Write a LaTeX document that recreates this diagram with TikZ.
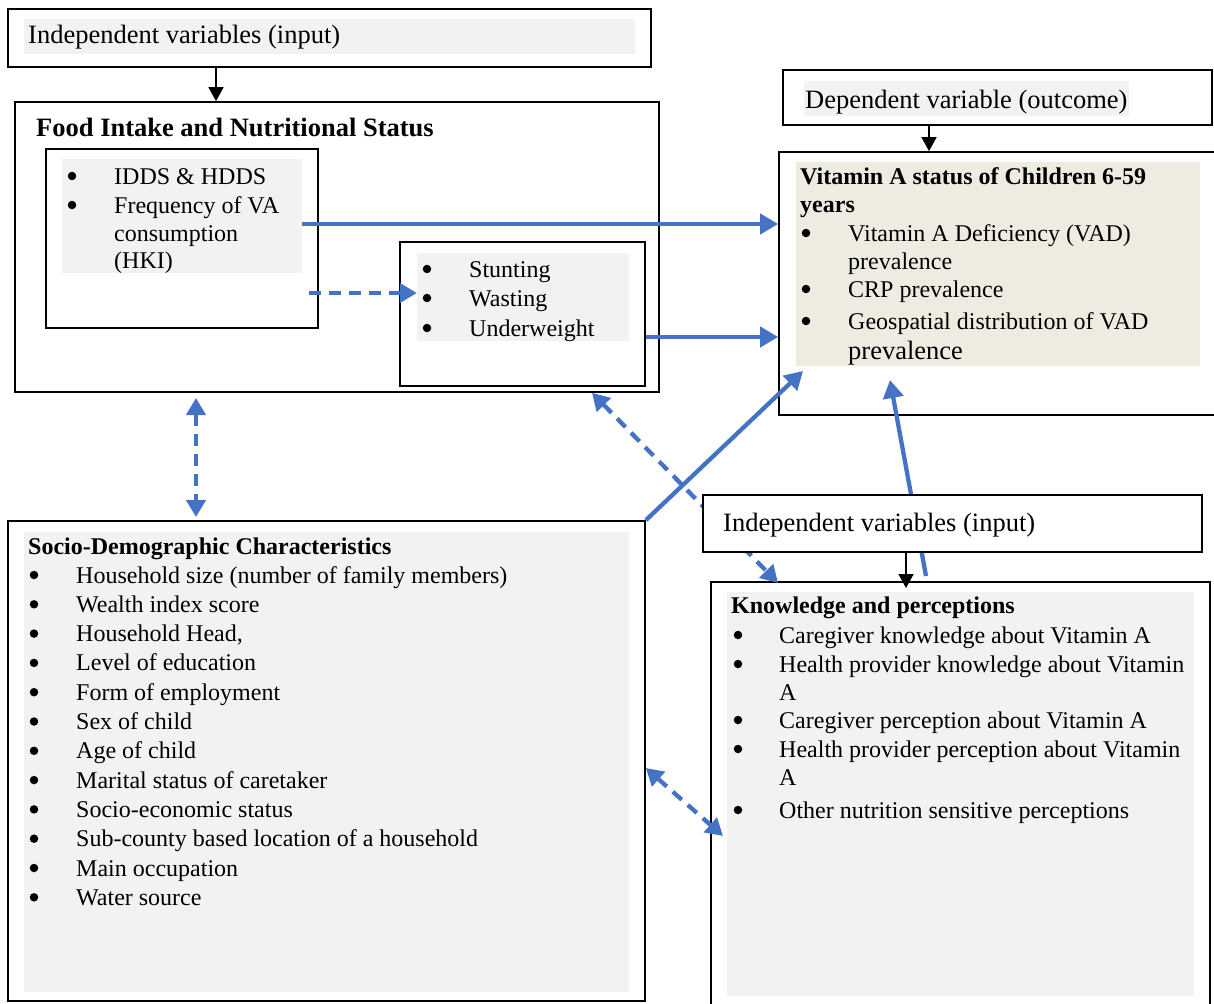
\documentclass[tikz,border=0pt]{standalone}
\usepackage{fontspec}
\setmainfont{Liberation Serif}
\usetikzlibrary{arrows.meta,fit}
\definecolor{vblue}{HTML}{4472C4}
\definecolor{lgray}{HTML}{F2F2F2}
\definecolor{beige}{HTML}{EEECE1}
\tikzset{
  frame/.style={draw=black, line width=1.7pt, fill=white, inner sep=0pt},
  panel/.style={fill=#1, draw=none, inner sep=0pt},
  lab/.style={anchor=base west, inner sep=0pt, font=\fontsize{26.5}{30}\selectfont},
  labbold/.style={anchor=base west, inner sep=0pt, font=\fontsize{26.5}{30}\selectfont\bfseries},
  txt/.style={anchor=base west, inner sep=0pt, font=\fontsize{24}{29}\selectfont},
  txtbold/.style={anchor=base west, inner sep=0pt, font=\fontsize{24}{29}\selectfont\bfseries},
  bul/.style={circle, fill=black, draw=none, inner sep=0pt, minimum size=8.5pt, yshift=8pt},
  solidarrow/.style={draw=vblue, line width=4.3pt, -{Triangle[length=18pt,width=20pt]}},
  dasharrow/.style={draw=vblue, line width=4.3pt, dash pattern=on 12pt off 8pt, -{Triangle[length=17pt,width=19pt]}},
  dashboth/.style={draw=vblue, line width=4.3pt, dash pattern=on 12pt off 8pt, {Triangle[length=17pt,width=19pt]}-{Triangle[length=17pt,width=19pt]}},
  blackarrow/.style={draw=black, line width=1.6pt, -{Triangle[length=14pt,width=15pt]}}
}
\begin{document}
\begin{tikzpicture}[x=1pt,y=-1pt]
\useasboundingbox (0,0) rectangle (1214,1003);

% ---------- top input box ----------
\node[frame, fit={(8,9)(651,67)}] (in1) {};
\node[panel=lgray, fit={(24,19)(635,54)}] (in1p) {};
\node[lab] (in1t) at (28,44) {Independent variables (input)};

% ---------- food intake box ----------
\node[frame, fit={(15,102)(659,392)}] (food) {};
\node[labbold] (foodt) at (36,137) {Food Intake and Nutritional Status};
\node[frame, fit={(46,149)(318,328)}] (fa) {};
\node[panel=lgray, fit={(62,159)(302,273)}] (fap) {};
\node[bul] (fab1) at (72,184) {};
\node[txt] (fat1) at (114,184) {IDDS \& HDDS};
\node[bul] (fab2) at (72,213) {};
\node[txt] (fat2) at (114,213) {Frequency of VA};
\node[txt] (fat3) at (114,241) {consumption};
\node[txt] (fat4) at (114,268) {(HKI)};
\node[frame, fit={(400,242)(645,386)}] (fb) {};
\node[panel=lgray, fit={(417,253)(629,341)}] (fbp) {};
\node[bul] (fbb1) at (427,277) {};
\node[txt] (fbt1) at (469,277) {Stunting};
\node[bul] (fbb2) at (427,306) {};
\node[txt] (fbt2) at (469,306) {Wasting};
\node[bul] (fbb3) at (427,336) {};
\node[txt] (fbt3) at (469,336) {Underweight};

% ---------- dependent variable ----------
\node[frame, fit={(783,70)(1212,125)}] (dep) {};
\node[panel=lgray, fit={(804,81)(1129,116)}] (depp) {};
\node[lab] (dept) at (805,109) {Dependent variable (outcome)};

\node[frame, fit={(779,152)(1230,415)}] (vit) {};
\node[panel=beige, fit={(796,162)(1200,366)}] (vitp) {};
\node[txtbold] (vitt1) at (800,184) {Vitamin A status of Children 6-59};
\node[txtbold] (vitt2) at (800,212) {years};
\node[bul] (vb1) at (806,241) {};
\node[txt] (vt1) at (848,241) {Vitamin A Deficiency (VAD)};
\node[txt] (vt1b) at (848,269) {prevalence};
\node[bul] (vb2) at (806,297) {};
\node[txt] (vt2) at (848,297) {CRP prevalence};
\node[bul] (vb3) at (806,329) {};
\node[txt] (vt3) at (848,329) {Geospatial distribution of VAD};
\node[lab] (vt3b) at (848,359) {prevalence};

% ---------- socio-demographic ----------
\node[frame, fit={(8,521)(645,1001)}] (soc) {};
\node[panel=lgray, fit={(24,532)(629,992)}] (socp) {};
\node[txtbold] (soct) at (28,554) {Socio-Demographic Characteristics};
\foreach \t [count=\i from 0] in {Household size (number of family members), Wealth index score, {Household Head,}, Level of education, Form of employment, Sex of child, Age of child, Marital status of caretaker, Socio-economic status, Sub-county based location of a household, Main occupation, Water source}{
  \node[bul] (sb\i) at (34,{583+29.3*\i}) {};
  \node[txt] (st\i) at (76,{583+29.3*\i}) {\t};
}

% ---------- knowledge ----------
\node[frame, fit={(711,582)(1210,1020)}] (know) {};
\node[panel=lgray, fit={(727,592)(1194,996)}] (knowp) {};
\node[txtbold] (knowt) at (731,613) {Knowledge and perceptions};
\node[bul] (kb1) at (738,643) {};
\node[txt] (kt1) at (779,643) {Caregiver knowledge about Vitamin A};
\node[bul] (kb2) at (738,672) {};
\node[txt] (kt2) at (779,672) {Health provider knowledge about Vitamin};
\node[txt] (kt2b) at (779,700) {A};
\node[bul] (kb3) at (738,728) {};
\node[txt] (kt3) at (779,728) {Caregiver perception about Vitamin A};
\node[bul] (kb4) at (738,757) {};
\node[txt] (kt4) at (779,757) {Health provider perception about Vitamin};
\node[txt] (kt4b) at (779,785) {A};
\node[bul] (kb5) at (738,818) {};
\node[txt] (kt5) at (779,818) {Other nutrition sensitive perceptions};

% ---------- free connector ends ----------
\coordinate (a2s) at (309,293);
\coordinate (a4e) at (803,371);
\coordinate (a5s) at (926,576);
\coordinate (a5e) at (890,380);
\coordinate (a6e) at (778,583);
\coordinate (a7s) at (196,398);
\coordinate (a7e) at (196,517);
\coordinate (a8e) at (723,836);
\coordinate (k1e) at (906,588);

% ---------- connectors ----------
\draw[blackarrow] (in1.south -| 216,0) -- (food.north -| 216,0);
\draw[blackarrow] (dep.south -| 929,0) -- (vit.north -| 929,0);
\draw[solidarrow] (fap.east |- 0,224) -- (vit.west |- 0,224);
\draw[dasharrow] (a2s) -- (fbp.west |- 0,293);
\draw[solidarrow] (fb.east |- 0,337) -- (vit.west |- 0,337);
\draw[solidarrow] (soc.north east) -- (a4e);
\draw[solidarrow] (a5s) -- (a5e);
\draw[dashboth] (food.south -| 592,0) -- (a6e);
\draw[dashboth] (a7s) -- (a7e);
\draw[dashboth] (soc.east |- 0,768) -- (a8e);

% ---------- lower input box (over the connectors) ----------
\node[frame, fit={(703,495)(1202,552)}] (in2) {};
\node[lab] (in2t) at (723,531) {Independent variables (input)};
\draw[blackarrow] (in2.south -| 906,0) -- (k1e);
\end{tikzpicture}
\end{document}
